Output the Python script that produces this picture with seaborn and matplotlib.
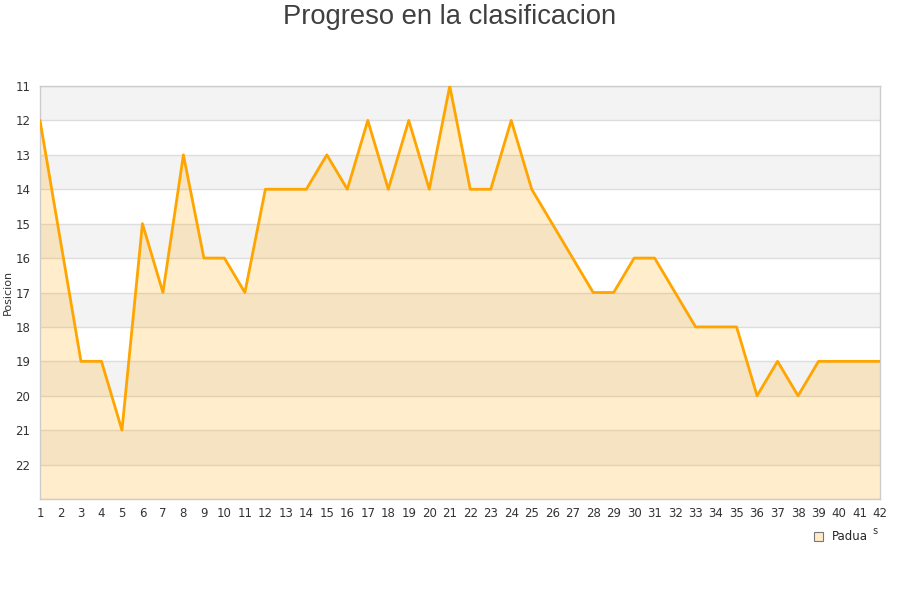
import numpy as np
import pandas as pd
import matplotlib
matplotlib.use("Agg")
import matplotlib.pyplot as plt
from matplotlib.patches import Patch
import seaborn as sns

# Jornadas y posicion del Padua
jornadas = list(range(1, 43))
posicion = [12, 15.5, 19, 19, 21, 15, 17, 13, 16, 16,
            17, 14, 14, 14, 13, 14, 12, 14, 12, 14,
            11, 14, 14, 12, 14, 15, 16, 17, 17, 16,
            16, 17, 18, 18, 18, 20, 19, 20, 19, 19,
            19, 19]
equipo = "Padua"
titulo = "Progreso en la clasificacion"
y_ticks = list(range(11, 23))

df = pd.DataFrame({"Jornada": jornadas, "Posicion": posicion})

sns.set_theme(style="white")
plt.rcParams['font.family'] = ['DejaVu Sans']

fig = plt.figure(figsize=(9, 6), dpi=100)
ax = fig.add_axes([40 / 900, 1 - 499 / 600, 840 / 900, 413 / 600])

y_bottom, y_top = 23, 11

# alternating horizontal bands
for k in range(y_top, y_bottom, 2):
    ax.axhspan(k, k + 1, color="#f3f3f3", zorder=0, lw=0)
for k in range(y_top, y_bottom + 1):
    ax.axhline(k, color="#dddddd", lw=1, zorder=1)

ax.fill_between(df["Jornada"], df["Posicion"], y_bottom, color="#ffa500",
                alpha=0.2, lw=0, zorder=2)
sns.lineplot(data=df, x="Jornada", y="Posicion", color="#ffa500", lw=2,
             ax=ax, zorder=3, legend=False)

ax.set_xlim(1, 42)
ax.set_ylim(y_bottom, y_top)
ax.set_xticks(jornadas)
ax.set_yticks(y_ticks)
ax.tick_params(axis="both", length=0, labelsize=8.5, colors="#333333")
ax.tick_params(axis="x", pad=6)
ax.tick_params(axis="y", pad=7)
ax.set_xlabel("")
ax.set_ylabel("Posicion", fontsize=8, color="#333333", labelpad=2)

for side in ["left", "bottom", "right", "top"]:
    ax.spines[side].set_color("#cccccc")
    ax.spines[side].set_linewidth(1)

fig.text(0.5, 0.972, titulo, ha="center", va="center", fontsize=19.7,
         color="#404040", family=["Liberation Sans", "DejaVu Sans"])

handle = Patch(facecolor="#feebc8", edgecolor="#777777", linewidth=0.8, label=equipo)
fig.legend([handle], [equipo], loc="center", bbox_to_anchor=(841 / 900, 1 - 537 / 600),
           frameon=False, fontsize=8.5, handlelength=0.75, handleheight=0.75,
           handletextpad=0.7, borderpad=0)
fig.text(875 / 900, 1 - 531 / 600, "s", fontsize=7, color="#333333",
         ha="center", va="center")

fig.savefig("out.png", dpi=100)
